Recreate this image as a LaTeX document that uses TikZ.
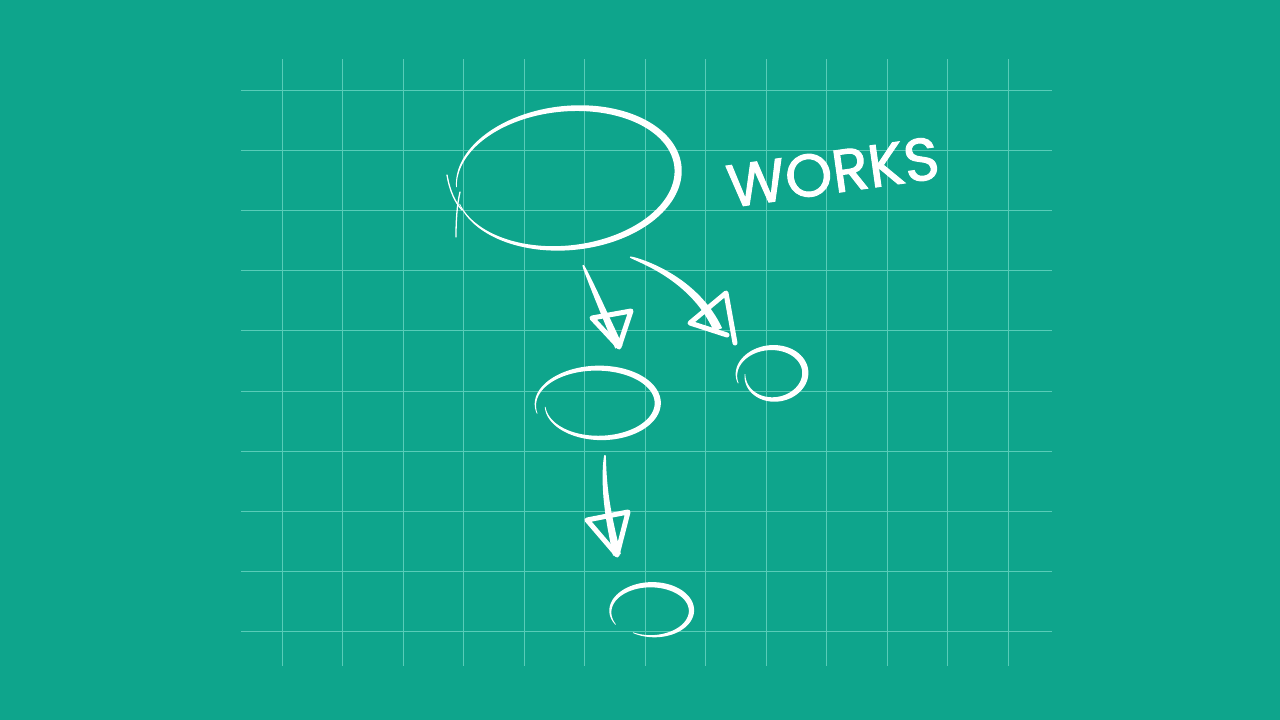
\documentclass[tikz,border=0pt]{standalone}
\usepackage{fontspec}
\newfontfamily\handfont{Poppins}[FakeBold=1.6]
\definecolor{bgteal}{RGB}{14,165,140}
\definecolor{gridteal}{RGB}{88,204,184}
% tapered elliptic strokes
\newcommand\skS[1]{((#1-\skTa)/(\skTb-\skTa))}
\newcommand\skRX[1]{(\skRxa+(\skRxb-\skRxa)*\skS{#1})}
\newcommand\skRY[1]{(\skRya+(\skRyb-\skRya)*\skS{#1})}
\newcommand\skHW[1]{(0.35+\skWd/2*sin(180*\skS{#1}))}
\newcommand\skDrawTaper{%
  \fill[white] plot[domain=\skTa:\skTb, samples=160, variable=\t]
    ({\skCx + (\skRX{\t}+\skHW{\t})*cos(\t)*cos(\skRot) + (\skRY{\t}+\skHW{\t})*sin(\t)*sin(\skRot)},
     {\skCy - (\skRX{\t}+\skHW{\t})*cos(\t)*sin(\skRot) + (\skRY{\t}+\skHW{\t})*sin(\t)*cos(\skRot)})
    -- plot[domain=\skTb:\skTa, samples=160, variable=\t]
    ({\skCx + (\skRX{\t}-\skHW{\t})*cos(\t)*cos(\skRot) + (\skRY{\t}-\skHW{\t})*sin(\t)*sin(\skRot)},
     {\skCy - (\skRX{\t}-\skHW{\t})*cos(\t)*sin(\skRot) + (\skRY{\t}-\skHW{\t})*sin(\t)*cos(\skRot)})
    -- cycle;}
\newcommand\skSet[9]{\def\skCx{#1}\def\skCy{#2}\def\skRxa{#3}\def\skRxb{#4}\def\skRya{#5}\def\skRyb{#6}\def\skTa{#7}\def\skTb{#8}\def\skWd{#9}}
% tapered bezier shafts
\newcommand\bzX[1]{((1-#1)^3*\bAx+3*(1-#1)^2*#1*\bBx+3*(1-#1)*#1^2*\bCx+#1^3*\bDx)}
\newcommand\bzY[1]{((1-#1)^3*\bAy+3*(1-#1)^2*#1*\bBy+3*(1-#1)*#1^2*\bCy+#1^3*\bDy)}
\newcommand\bzDX[1]{(0.03*(1-#1)^2*(\bBx-\bAx)+0.06*(1-#1)*#1*(\bCx-\bBx)+0.03*#1^2*(\bDx-\bCx))}
\newcommand\bzDY[1]{(0.03*(1-#1)^2*(\bBy-\bAy)+0.06*(1-#1)*#1*(\bCy-\bBy)+0.03*#1^2*(\bDy-\bCy))}
\newcommand\bzL[1]{(sqrt(\bzDX{#1}*\bzDX{#1}+\bzDY{#1}*\bzDY{#1}))}
\newcommand\bzHW[1]{((1+(\bWd-1)*sqrt(#1))/2)}
\newcommand\skShaft[9]{%
  \def\bAx{#1}\def\bAy{#2}\def\bBx{#3}\def\bBy{#4}\def\bCx{#5}\def\bCy{#6}\def\bDx{#7}\def\bDy{#8}\def\bWd{#9}%
  \fill[white] plot[domain=0.001:0.999, samples=60, variable=\t]
    ({\bzX{\t} - \bzHW{\t}*\bzDY{\t}/\bzL{\t}}, {\bzY{\t} + \bzHW{\t}*\bzDX{\t}/\bzL{\t}})
    -- plot[domain=0.999:0.001, samples=60, variable=\t]
    ({\bzX{\t} + \bzHW{\t}*\bzDY{\t}/\bzL{\t}}, {\bzY{\t} - \bzHW{\t}*\bzDX{\t}/\bzL{\t}})
    -- cycle;}
\tikzset{
  gridline/.style={draw=gridteal, line width=1.1pt},
  headtri/.style={draw=white, line width=5pt, line join=round, line cap=round},
  tail/.style={draw=white, line width=1.3pt, line cap=round},
  label/.style={text=white, font=\handfont\fontsize{60}{60}\selectfont, rotate=8}
}
\begin{document}
\begin{tikzpicture}[x=1pt,y=-1pt]
\fill[bgteal] (0,0) rectangle (1280,720);
\useasboundingbox (0,0) rectangle (1280,720);
% grid
\foreach \k in {0,...,12} {
  \draw[gridline] ({282.3+60.5*\k},59) -- ({282.3+60.5*\k},666);
}
\foreach \j in {0,...,9} {
  \draw[gridline] (241,{90.3+60.15*\j}) -- (1052,{90.3+60.15*\j});
}
% big ellipse
\def\skRot{6}
\skSet{567}{178}{112}{111}{70}{69}{168}{-178}{6.5}
\skDrawTaper
\draw[tail] (447,175) .. controls (450,192) and (455,202) .. (462,210);
\draw[tail] (456,237) .. controls (456,220) and (457,205) .. (460,192);
% middle ellipse
\def\skRot{0}
\skSet{599}{404}{64}{54}{37}{33}{165}{535}{5.5}
\skDrawTaper
% right small ellipse
\skSet{773}{374}{37}{28}{27}{25}{160}{540}{5.5}
\skDrawTaper
% bottom small ellipse
\skSet{652}{611}{42}{38}{27}{25}{150}{480}{5}
\skDrawTaper
% arrow 1
\coordinate (a1s) at (583,265);
\coordinate (a1t) at (619,347);
\coordinate (a1l) at (592,318);
\coordinate (a1r) at (631,311);
\skShaft{583}{265}{595}{292}{607}{320}{619}{347}{8}
\draw[headtri] (a1t) -- (a1l) -- (a1r) -- cycle;
% arrow 2
\coordinate (a2s) at (630,257);
\coordinate (a2t) at (727,335);
\coordinate (a2l) at (690,323);
\coordinate (a2r) at (726,293);
\coordinate (a2e) at (735,343);
\skShaft{630}{257}{675}{272}{705}{300}{718}{330}{9}
\draw[headtri] (a2t) -- (a2l) -- (a2r) -- (a2e);
% arrow 3
\coordinate (a3s) at (605,455);
\coordinate (a3t) at (617,555);
\coordinate (a3l) at (587,520);
\coordinate (a3r) at (628,512);
\skShaft{605}{455}{603}{490}{609}{520}{617}{555}{8}
\draw[headtri] (a3t) -- (a3l) -- (a3r) -- cycle;
% label
\node[label] (works) at (833,172) {WORKS};
\end{tikzpicture}
\end{document}
